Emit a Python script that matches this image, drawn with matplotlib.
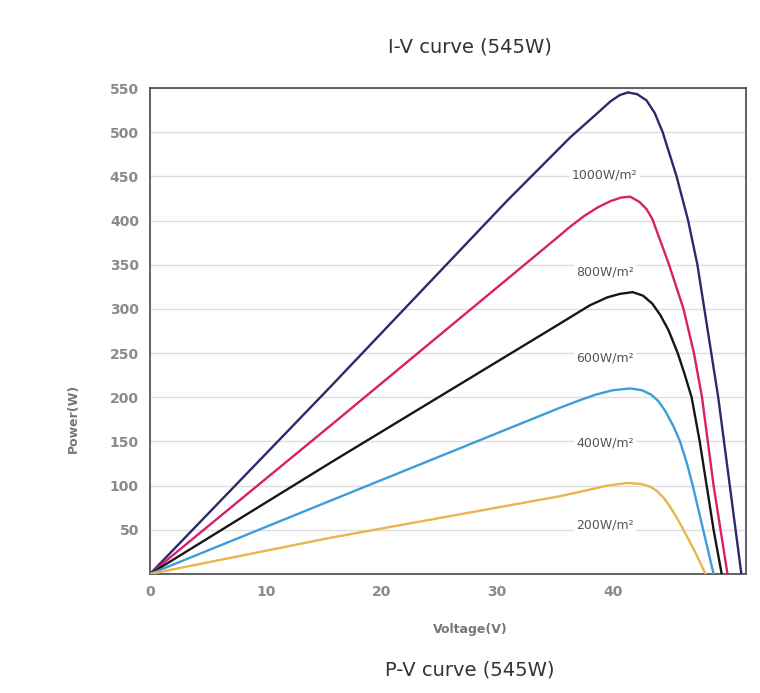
import matplotlib.pyplot as plt

# valores (Voltage V, Power W)
v_1000 = [0, 15.6, 30.9, 36.3, 37.5, 38.7, 39.8, 40.6, 41.3, 42.1, 42.9, 43.6, 44.3, 45.5, 46.5, 47.3, 47.9,
          48.5, 49.1, 49.6, 50.1, 50.6, 51.1]
p_1000 = [0, 212, 423, 494, 508, 522, 535, 542, 545, 543, 536, 522, 500, 450, 400, 350, 300,
          250, 200, 150, 100, 50, 0]

v_800 = [0, 15.6, 35.4, 36.3, 37.5, 38.7, 39.8, 40.7, 41.5, 42.3, 42.9, 43.4, 44.1, 44.8, 46.1, 47.0, 47.7,
         48.2, 48.7, 49.3, 49.9]
p_800 = [0, 168, 383, 393, 405, 415, 422, 426, 427, 421, 413, 402, 377, 352, 300, 250, 200,
         150, 100, 50, 0]

v_600 = [0, 15.6, 35.0, 36.5, 38.0, 39.5, 40.6, 41.7, 42.6, 43.4, 44.1, 44.8, 45.6, 46.2, 46.8, 47.5, 48.1,
         48.7, 49.4]
p_600 = [0, 126, 280, 292, 304, 313, 317, 319, 315, 306, 293, 276, 250, 226, 200, 150, 100,
         50, 0]

v_400 = [0, 15.6, 35.4, 37.0, 38.5, 40.0, 41.5, 42.5, 43.3, 43.9, 44.5, 45.2, 45.8, 46.4, 46.9, 47.8, 48.7]
p_400 = [0, 83, 188, 196, 203, 208, 210, 208, 203, 196, 185, 168, 150, 125, 100, 50, 0]

v_200 = [0, 15.6, 35.4, 37.5, 39.5, 41.2, 42.4, 43.2, 43.8, 44.4, 44.9, 45.5, 46.1, 47.1, 48.0]
p_200 = [0, 41, 88, 94, 100, 103, 102, 99, 94, 86, 77, 64, 50, 25, 0]

series = [
    (v_1000, p_1000, '#2b2a6b', '1000W/m²', 451),
    (v_800, p_800, '#d81f68', '800W/m²', 342),
    (v_600, p_600, '#161616', '600W/m²', 244),
    (v_400, p_400, '#3a9fd8', '400W/m²', 148),
    (v_200, p_200, '#e9b54c', '200W/m²', 55),
]

y_ticks = [50, 100, 150, 200, 250, 300, 350, 400, 450, 500, 550]
x_ticks = [0, 10, 20, 30, 40]

fig = plt.figure(figsize=(7.6, 6.93), dpi=100)
ax = fig.add_axes([150 / 760, 1 - 574 / 693, 596 / 760, 486 / 693])

for v, p, c, lab, ly in series:
    ax.plot(v, p, color=c, lw=1.7, solid_joinstyle='round', zorder=3)
    ax.text(39.3, ly, lab, fontsize=9, color='#555555', ha='center', va='center',
            bbox=dict(facecolor='white', edgecolor='none', pad=1.5), zorder=2)

ax.set_xlim(0, 51.5)
ax.set_ylim(0, 550)
ax.set_yticks(y_ticks)
ax.set_xticks(x_ticks)
ax.tick_params(length=0, labelsize=10, labelcolor='#8a8a8a', pad=8)
for t in ax.get_xticklabels() + ax.get_yticklabels():
    t.set_fontweight('bold')
ax.grid(axis='y', color='#dddddd', lw=1)
ax.set_axisbelow(True)
for s in ax.spines.values():
    s.set_color('#555555')
    s.set_linewidth(1.3)

fig.text(73 / 760, 1 - 418 / 693, 'Power(W)', rotation=90, fontsize=9, color='#777777',
         ha='center', va='center', fontweight='bold')
fig.text(470 / 760, 1 - 630 / 693, 'Voltage(V)', fontsize=9, color='#777777',
         ha='center', va='center', fontweight='bold')
fig.text(470 / 760, 1 - 47 / 693, 'I-V curve (545W)', fontsize=14, color='#333333',
         ha='center', va='center')
fig.text(470 / 760, 1 - 670 / 693, 'P-V curve (545W)', fontsize=14, color='#333333',
         ha='center', va='center')

plt.savefig('out.png', dpi=100)
